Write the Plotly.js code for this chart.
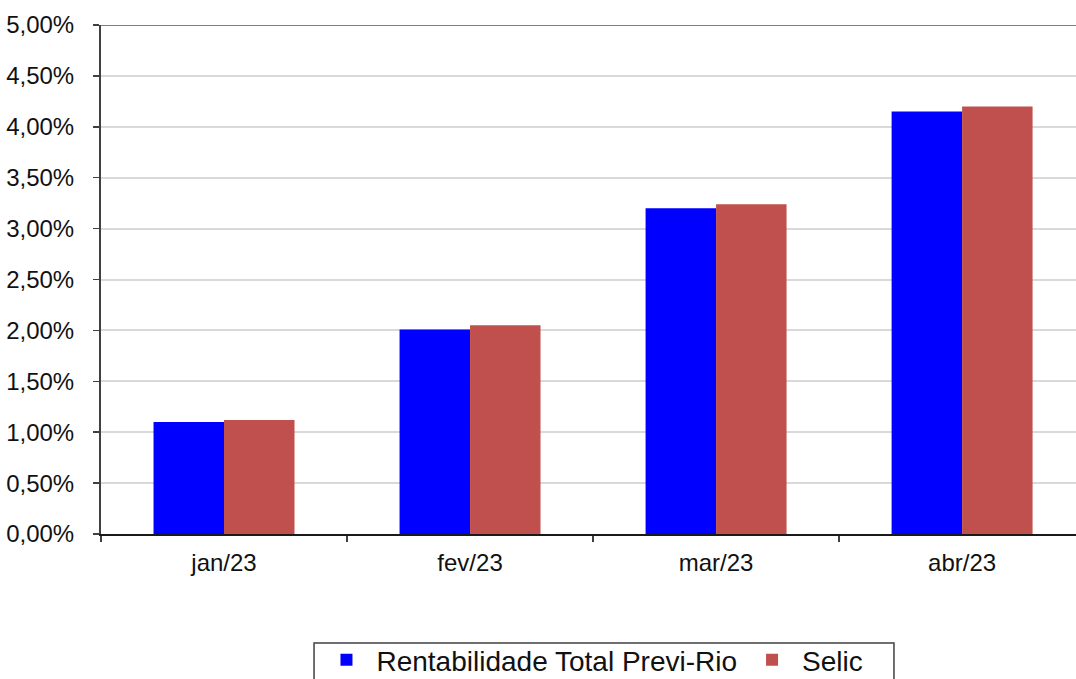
<!DOCTYPE html>
<html>
<head>
<meta charset="utf-8">
<script src="https://cdn.plot.ly/plotly-3.0.1.min.js"></script>
<style>html,body{margin:0;padding:0;background:#fff;overflow:hidden;width:1076px;height:679px}#chart{width:1076px;height:700px}</style>
</head>
<body>
<div id="chart"></div>
<script>
const categories = ["jan/23", "fev/23", "mar/23", "abr/23"];
const previRio = [1.10, 2.01, 3.20, 4.15];
const selic = [1.12, 2.05, 3.24, 4.20];
const seriesNames = ["Rentabilidade Total Previ-Rio", "Selic"];

const font = "Liberation Sans, Arial, sans-serif";

const traces = [
  {type: "bar", name: seriesNames[0], x: categories, y: previRio,
   marker: {color: "#0000FF", line: {width: 0}}},
  {type: "bar", name: seriesNames[1], x: categories, y: selic,
   marker: {color: "#C0504D", line: {width: 0}}}
];

const layout = {
  width: 1076, height: 700,
  margin: {l: 101, r: 0, t: 25, b: 166},
  paper_bgcolor: "#fff", plot_bgcolor: "#fff",
  separators: ",.",
  barmode: "group", bargap: 0.427, bargroupgap: 0,
  font: {family: font, color: "#1a1a1a"},
  showlegend: true,
  legend: {orientation: "h", x: 0.2210, xanchor: "left", y: -0.1984, yanchor: "top",
           borderwidth: 0, bgcolor: "rgba(0,0,0,0)",
           font: {family: font, size: 28, color: "#111"},
           itemwidth: 50, traceorder: "normal"},
  xaxis: {type: "category", range: [-0.5, 3.463], tickson: "boundaries",
          ticks: "outside", ticklen: 6, tickwidth: 1.5, tickcolor: "#404040",
          showline: true, linecolor: "#1a1a1a", linewidth: 2,
          showgrid: false, zeroline: false, ticklabelstandoff: 6,
          tickfont: {family: font, size: 24, color: "#111"}},
  yaxis: {range: [0, 5], dtick: 0.5, tick0: 0, tickformat: ".2f", ticksuffix: "%",
          ticks: "outside", ticklen: 6, tickwidth: 1.5, tickcolor: "#404040",
          showline: true, linecolor: "#404040", linewidth: 2,
          showgrid: true, gridcolor: "#d9d9d9", gridwidth: 2, zeroline: false,
          ticklabelstandoff: 14,
          tickfont: {family: font, size: 24, color: "#111"}},
  shapes: [
    {type: "line", xref: "paper", x0: 0, x1: 1, yref: "y", y0: 5, y1: 5,
     line: {color: "#808080", width: 2}, layer: "below"},
    {type: "rect", xref: "paper", yref: "paper", x0: 0.2185, x1: 0.8133, y0: -0.2141, y1: -0.40,
     line: {color: "#404040", width: 1.5}, fillcolor: "rgba(0,0,0,0)", layer: "above"}
  ]
};

Plotly.newPlot("chart", traces, layout, {displayModeBar: false, staticPlot: true});
</script>
</body>
</html>
